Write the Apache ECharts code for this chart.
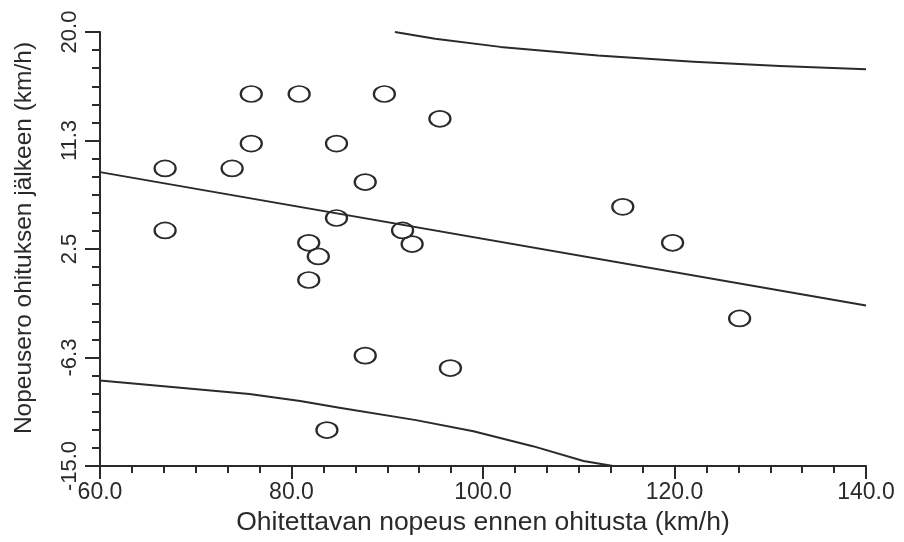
<!DOCTYPE html>
<html>
<head>
<meta charset="utf-8">
<script src="https://cdn.jsdelivr.net/npm/echarts@6/dist/echarts.min.js"></script>
<style>
html,body{margin:0;padding:0;background:#fff;}
#chart{width:904px;height:542px;}
</style>
</head>
<body>
<div id="chart"></div>
<script>
// Observations: [speed before overtaking, speed difference after overtaking]
var points = [
  [75.8, 15.0], [80.8, 15.0], [89.7, 15.0], [95.5, 13.0],
  [75.8, 11.0], [84.7, 11.0], [66.8, 9.0], [73.8, 9.0],
  [87.7, 7.9], [84.7, 5.0], [66.8, 4.0], [91.6, 4.0],
  [92.6, 2.9], [81.8, 3.0], [82.8, 1.9], [81.8, 0.0],
  [114.6, 5.9], [119.8, 3.0], [126.8, -3.1], [87.7, -6.1],
  [96.6, -7.1], [83.7, -12.1]
];
var regressionLine = [[60, 8.7], [140, -2.05]];
var upperBand = [[90.8, 20.0], [95.0, 19.45], [101.8, 18.8], [112.0, 18.1], [122.0, 17.6], [131.0, 17.25], [140.0, 17.0]];
var lowerBand = [[60.0, -8.1], [75.6, -9.2], [80.9, -9.75], [85.0, -10.3], [93.0, -11.3], [99.0, -12.2], [105.2, -13.4], [110.5, -14.6], [113.6, -15.0]];

var xTicks = [60, 80, 100, 120, 140];
var xTickLabels = ['60.0', '80.0', '100.0', '120.0', '140.0'];
var yTicks = [-15, -6.25, 2.5, 11.25, 20];
var yTickLabels = ['-15.0', '-6.3', '2.5', '11.3', '20.0'];
var yMinorTicks = [];
for (var i = 0; i < yTicks.length - 1; i++) {
  for (var k = 1; k < 6; k++) yMinorTicks.push(yTicks[i] + (yTicks[i + 1] - yTicks[i]) * k / 6);
}

var ink = '#2a2a2a';
var font = 'Liberation Sans';
var ellipse = 'path://M0,10a10,10 0 1,0 20,0a10,10 0 1,0 -20,0z';

var chart = echarts.init(document.getElementById('chart'));
chart.setOption({
  backgroundColor: '#ffffff',
  animation: false,
  grid: { left: 100, right: 38, top: 32, bottom: 76 },
  xAxis: {
    type: 'value', min: 60, max: 140, interval: 20,
    name: 'Ohitettavan nopeus ennen ohitusta (km/h)',
    nameLocation: 'middle', nameGap: 41,
    nameTextStyle: { fontFamily: font, fontSize: 26.5, color: ink },
    axisLine: { onZero: false, lineStyle: { color: ink, width: 2 } },
    axisTick: { inside: false, length: 13, lineStyle: { color: ink, width: 2 } },
    minorTick: { show: true, splitNumber: 6, length: 7, lineStyle: { color: ink, width: 2 } },
    axisLabel: {
      fontFamily: font, fontSize: 23, color: ink, margin: 15,
      formatter: function (v) { return xTickLabels[xTicks.indexOf(v)]; }
    },
    splitLine: { show: false }
  },
  yAxis: [{
    type: 'value', min: -15, max: 20,
    name: 'Nopeusero ohituksen jälkeen (km/h)',
    nameLocation: 'middle', nameGap: 63, nameRotate: 90,
    nameTextStyle: { fontFamily: font, fontSize: 24.5, color: ink, padding: [0, 0, 0, 22] },
    axisLine: { show: true, onZero: false, lineStyle: { color: ink, width: 2 } },
    axisTick: { show: true, length: 15, customValues: yTicks, lineStyle: { color: ink, width: 2 } },
    axisLabel: {
      fontFamily: font, fontSize: 22, color: ink, rotate: 90, margin: 19,
      customValues: yTicks,
      formatter: function (v) {
        for (var j = 0; j < yTicks.length; j++) if (Math.abs(yTicks[j] - v) < 1e-6) return yTickLabels[j];
        return '';
      }
    },
    splitLine: { show: false }
  }, {
    type: 'value', min: -15, max: 20, position: 'left',
    axisLine: { show: false, onZero: false },
    axisTick: { show: true, length: 8, customValues: yMinorTicks, lineStyle: { color: ink, width: 2 } },
    axisLabel: { show: false },
    splitLine: { show: false }
  }],
  series: [
    {
      type: 'line', data: regressionLine, showSymbol: false, symbol: 'none',
      lineStyle: { color: ink, width: 2 }, silent: true
    },
    {
      type: 'line', data: upperBand, smooth: false, showSymbol: false, symbol: 'none',
      lineStyle: { color: ink, width: 2, join: 'round' }, silent: true
    },
    {
      type: 'line', data: lowerBand, smooth: false, showSymbol: false, symbol: 'none',
      lineStyle: { color: ink, width: 2, join: 'round' }, silent: true
    },
    {
      type: 'scatter', data: points, symbol: ellipse, symbolSize: [21, 16],
      itemStyle: { color: 'rgba(0,0,0,0)', borderColor: ink, borderWidth: 2, opacity: 1 }
    }
  ]
});
</script>
</body>
</html>
